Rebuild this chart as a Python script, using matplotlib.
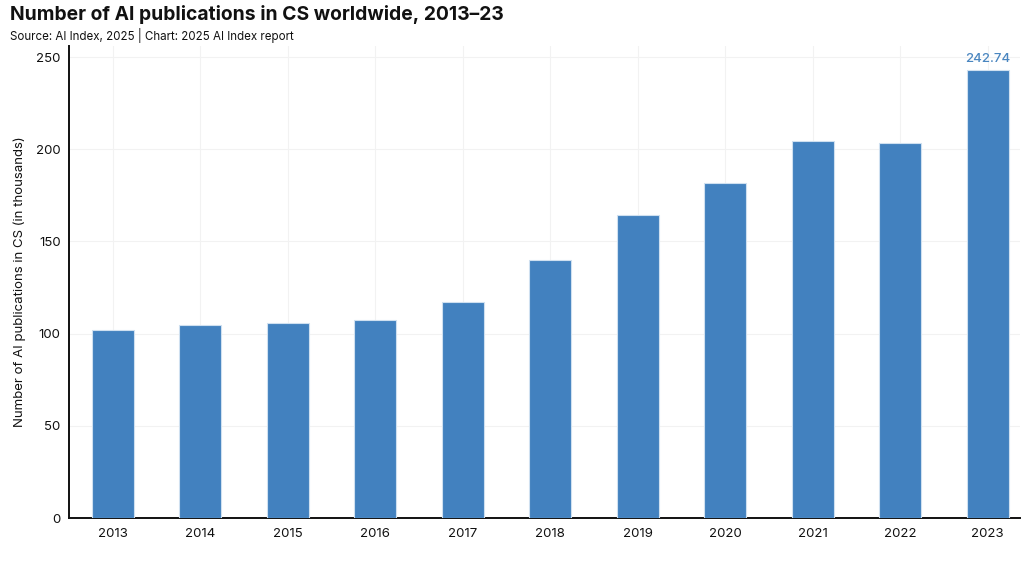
import matplotlib
matplotlib.use("Agg")
import matplotlib.pyplot as plt

years = ["2013", "2014", "2015", "2016", "2017", "2018", "2019", "2020", "2021", "2022", "2023"]
values = [102.0, 104.7, 105.7, 107.4, 117.1, 139.9, 164.3, 181.7, 204.4, 203.4, 242.74]
yticks = [0, 50, 100, 150, 200, 250]

plt.rcParams['font.family'] = ['Inter', 'DejaVu Sans']

fig = plt.figure(figsize=(10.24, 5.66), dpi=100)
ax = fig.add_axes([0.0674, 0.0848, 0.9286, 0.834])

x = list(range(len(years)))
bar_color = "#4281bf"
ax.bar(x, values, width=0.48, color=bar_color, edgecolor="#cfe0f0", linewidth=0.8, zorder=3)

ax.annotate(f"{values[-1]:.2f}", (x[-1], values[-1]), xytext=(0, 4), textcoords="offset points",
            ha="center", va="bottom", fontsize=9.5, color="#4a86c0", fontweight="medium")

ax.set_xlim(-0.5, 10.37)
ax.set_ylim(0, 256)
ax.set_xticks(x)
ax.set_xticklabels(years)
ax.set_yticks(yticks)
ax.tick_params(axis="both", length=0, labelsize=9.5, colors="#111111")
ax.tick_params(axis="y", pad=6)
ax.tick_params(axis="x", pad=7)
ax.grid(True, color="#f2f2f2", linewidth=0.8, zorder=0)
ax.set_axisbelow(True)
for s in ["top", "right"]:
    ax.spines[s].set_visible(False)
for s in ["left", "bottom"]:
    ax.spines[s].set_linewidth(1.4)
    ax.spines[s].set_color("#111111")

ax.set_ylabel("Number of AI publications in CS (in thousands)", fontsize=9.5, color="#111111", labelpad=7)

fig.text(0.0098, 0.975, "Number of AI publications in CS worldwide, 2013–23", fontsize=13.9,
         fontweight="bold", ha="left", va="center", color="#111111")
fig.text(0.0098, 0.937, "Source: AI Index, 2025 | Chart: 2025 AI Index report", fontsize=8.3,
         ha="left", va="center", color="#111111")

fig.savefig("out.png", dpi=100)
